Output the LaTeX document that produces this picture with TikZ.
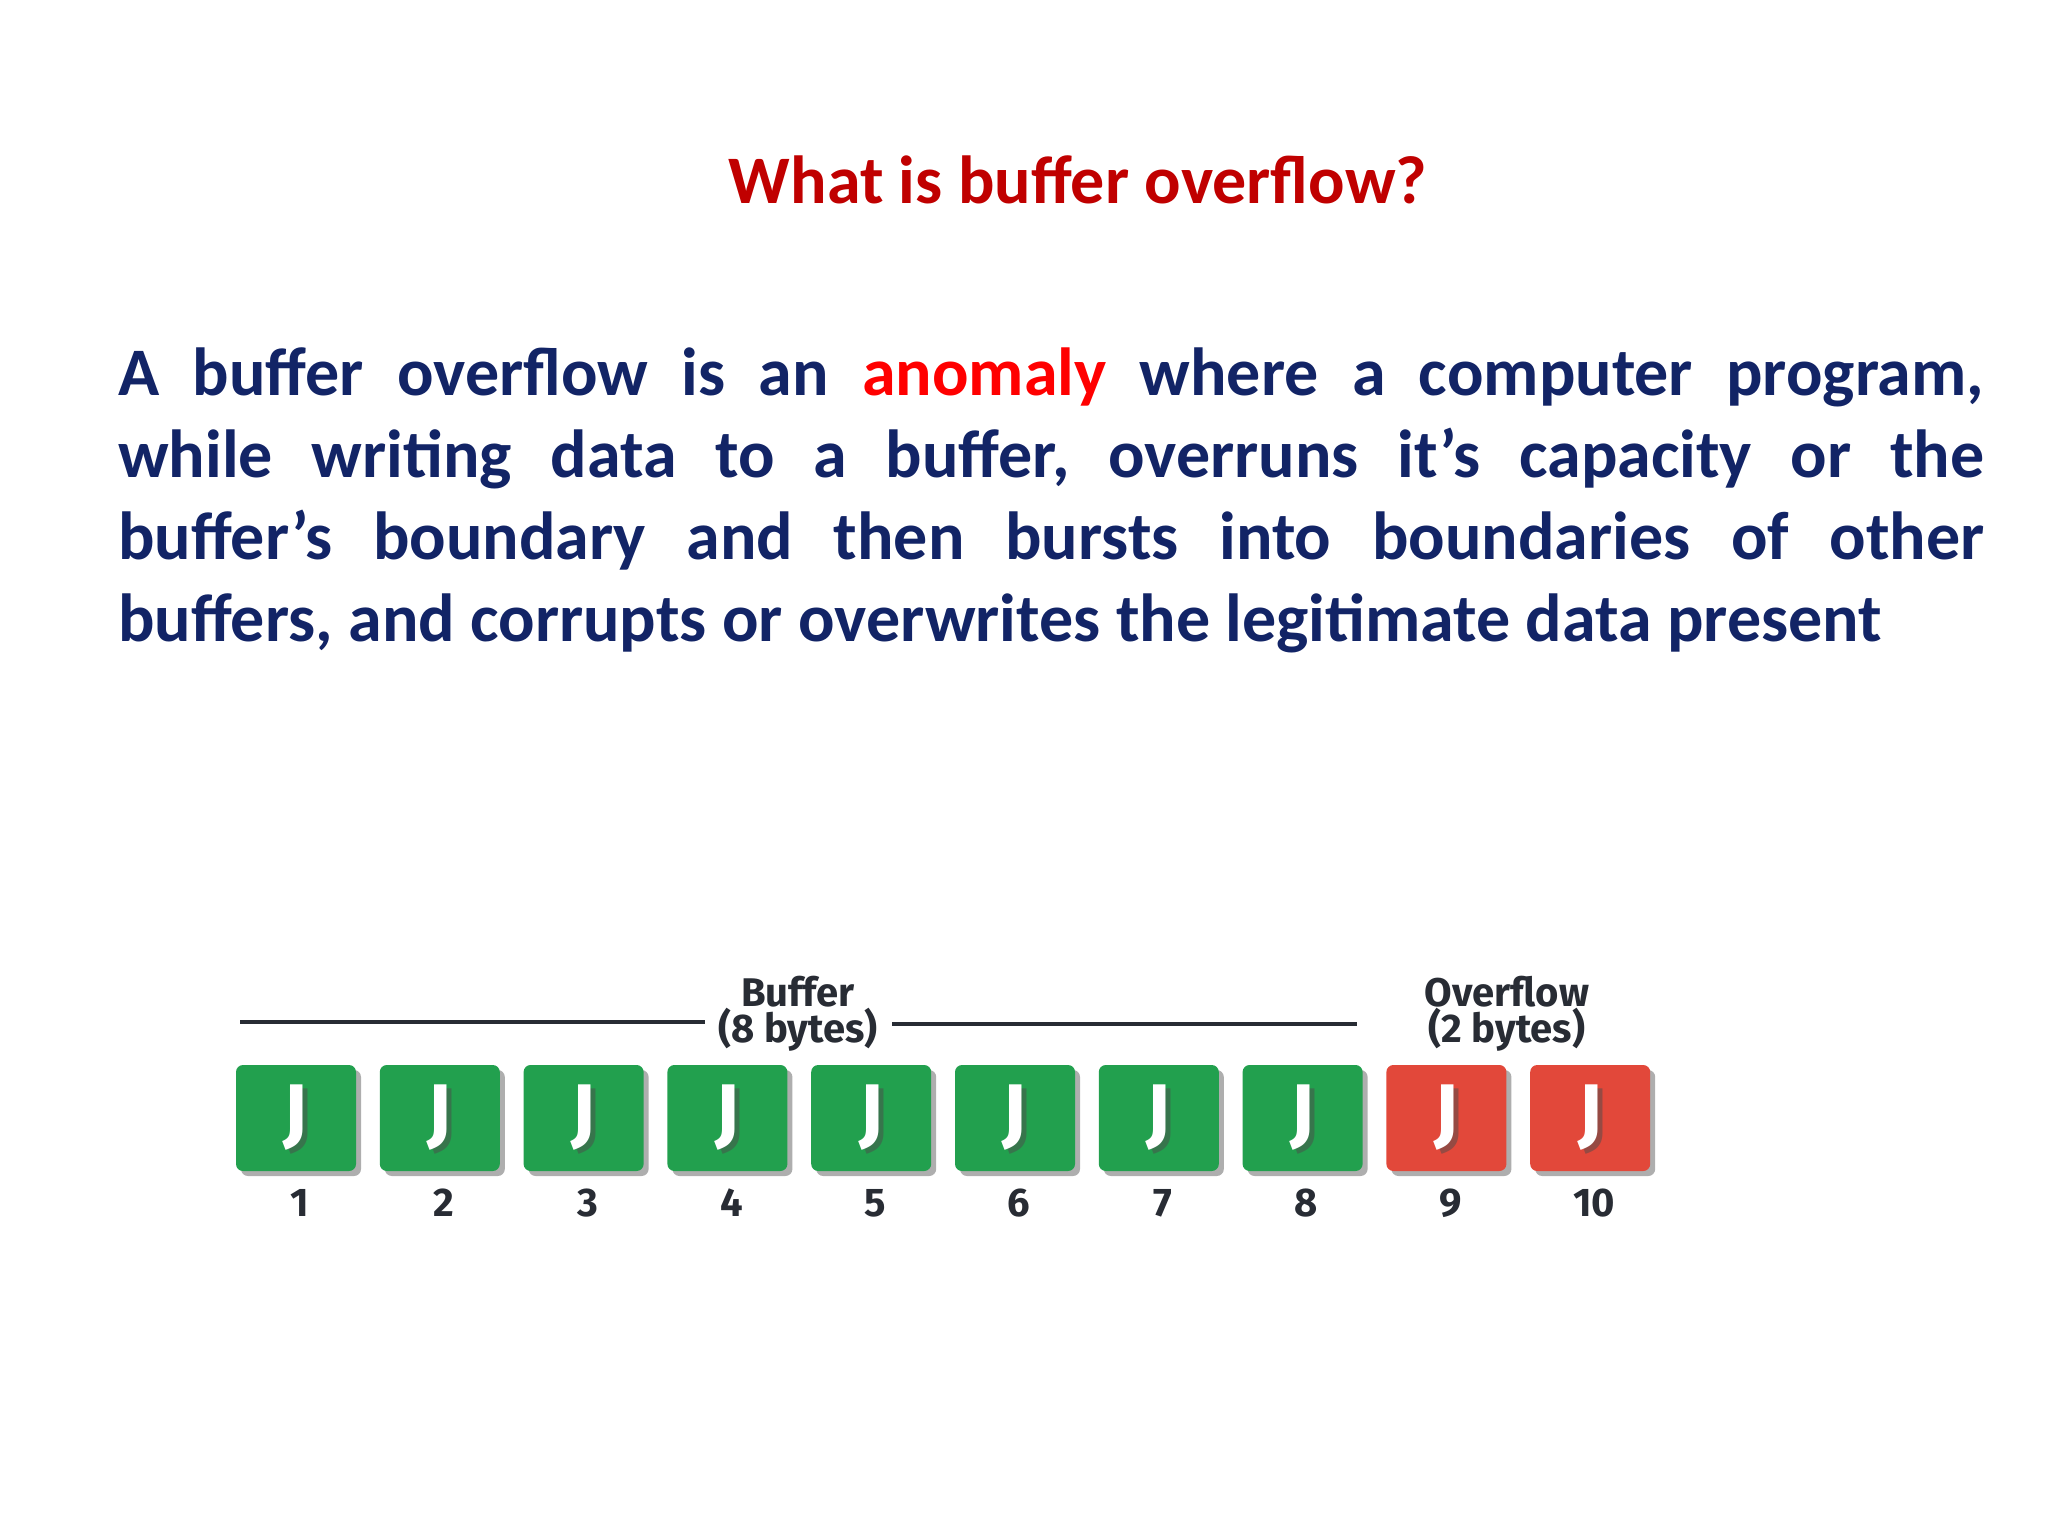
\documentclass[tikz,border=0pt]{standalone}
\usepackage{fontspec}
\setmainfont{Carlito}
\newfontfamily\lblfont{Fira Sans}
\usetikzlibrary{shadows}
\definecolor{navy}{RGB}{18,36,102}
\definecolor{ttl}{RGB}{192,0,0}
\definecolor{anom}{RGB}{255,0,0}
\definecolor{gbox}{RGB}{34,160,78}
\definecolor{rbox}{RGB}{226,72,58}
\definecolor{lbl}{RGB}{40,44,52}
\begin{document}
\begin{tikzpicture}[x=1pt,y=-1pt,
  body/.style={anchor=base west,inner sep=0,text=navy,font=\fontsize{68}{80}\selectfont\bfseries},
  cell/.style={minimum width=120pt,minimum height=106pt,rounded corners=7pt,
     drop shadow={shadow xshift=5pt,shadow yshift=-5pt,opacity=0.45,fill=black!70},inner sep=0},
  jf/.style={font=\lblfont\fontsize{76}{76}\selectfont\bfseries},
  num/.style={font=\lblfont\fontsize{40}{40}\selectfont\bfseries,text=lbl},
  lab/.style={font=\lblfont\fontsize{40}{40}\selectfont\bfseries,text=lbl,align=center,inner sep=0},
  rule/.style={draw=lbl,line width=3.5pt}]
\useasboundingbox (0,0) rectangle (2048,1536);
\fill[white] (0,0) rectangle (2048,1536);
\node[text=ttl,font=\fontsize{68}{80}\selectfont\bfseries] (title) at (1078,180) {What is buffer overflow?};
\node[body] (l1) at (118,395) {\hbox to 1866pt{A\hfill buffer\hfill overflow\hfill is\hfill an\hfill \textcolor{anom}{anomaly}\hfill where\hfill a\hfill computer\hfill program,}};
\node[body] (l2) at (118,477) {\hbox to 1866pt{while\hfill writing\hfill data\hfill to\hfill a\hfill buffer,\hfill overruns\hfill it’s\hfill capacity\hfill or\hfill the}};
\node[body] (l3) at (118,559) {\hbox to 1866pt{buffer’s\hfill boundary\hfill and\hfill then\hfill bursts\hfill into\hfill boundaries\hfill of\hfill other}};
\node[body] (l4) at (118,641) {buffers, and corrupts or overwrites the legitimate data present};
\foreach \i in {1,...,10}{
  \pgfmathsetmacro{\cx}{296+143.8*(\i-1)}
  \ifnum\i<9 \def\cc{gbox}\else\def\cc{rbox}\fi
  \node[cell,fill=\cc] (b\i) at (\cx,1118) {};
  \node[jf,text=black!70,opacity=0.5] at (\cx+5,1122) {J};
  \node[jf,text=white] (j\i) at (\cx,1118) {J};
  \node[num] (n\i) at (\cx+4,1203) {\i};
}
\node[lab] (buf) at (798,1014) {Buffer\\[-4pt](8 bytes)};
\node[lab] (ovf) at (1507,1014) {Overflow\\[-4pt](2 bytes)};
\coordinate (a1) at (240,1022); \coordinate (a2) at (705,1022);
\coordinate (a3) at (892,1024); \coordinate (a4) at (1357,1024);
\draw[rule] (a1) -- (a2);
\draw[rule] (a3) -- (a4);
\end{tikzpicture}
\end{document}
